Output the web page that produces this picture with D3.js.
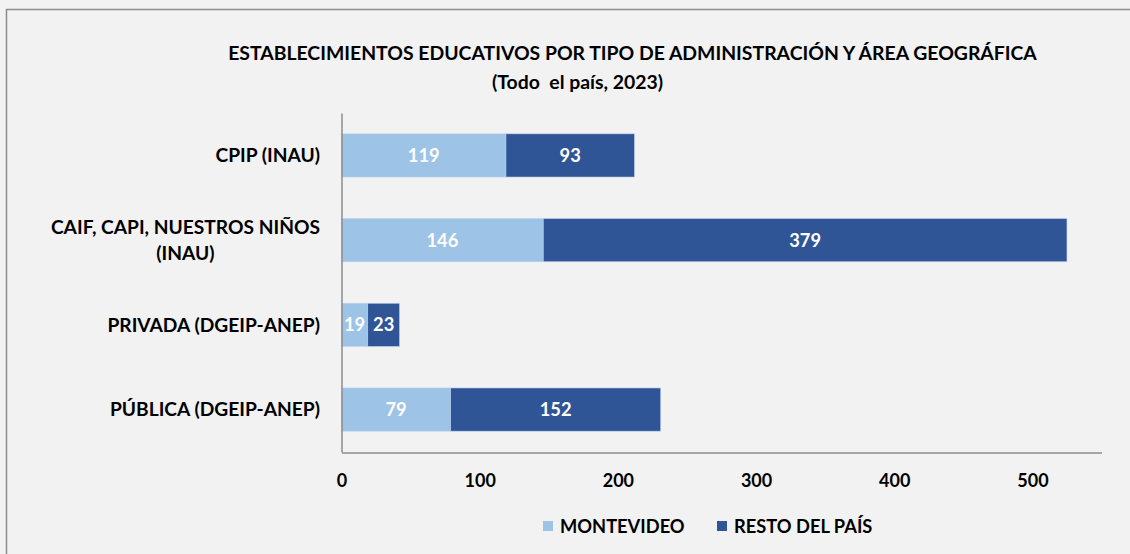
<!DOCTYPE html>
<html><head><meta charset="utf-8">
<script src="https://cdn.jsdelivr.net/npm/d3@7"></script>
<style>
html,body{margin:0;padding:0;background:#f2f2f2;}
text{font-family:Lato,"Noto Sans",sans-serif;font-weight:bold;}
</style></head>
<body>
<script>
const categories = ["CPIP (INAU)", "CAIF, CAPI, NUESTROS NIÑOS (INAU)", "PRIVADA (DGEIP-ANEP)", "PÚBLICA (DGEIP-ANEP)"];
const categoryLines = [["CPIP (INAU)"], ["CAIF, CAPI, NUESTROS NIÑOS", "(INAU)"], ["PRIVADA (DGEIP-ANEP)"], ["PÚBLICA (DGEIP-ANEP)"]];
const seriesNames = ["MONTEVIDEO", "RESTO DEL PAÍS"];
const montevideo = [119, 146, 19, 79];
const resto = [93, 379, 23, 152];
const xTicks = [0, 100, 200, 300, 400, 500];
const titleLines = ["ESTABLECIMIENTOS EDUCATIVOS POR TIPO DE ADMINISTRACIÓN Y ÁREA GEOGRÁFICA", "(Todo  el país, 2023)"];
const colors = ["#9dc3e6", "#2f5597"];

const W = 1130, H = 554;
const svg = d3.select("body").append("svg").attr("width", W).attr("height", H);
svg.append("rect").attr("width", W).attr("height", H).attr("fill", "#f2f2f2");
svg.append("rect").attr("x", 6.5).attr("y", 9.5).attr("width", W + 10).attr("height", H + 10)
  .attr("fill", "none").attr("stroke", "#8c8c8c").attr("stroke-width", 1.5);

const x = d3.scaleLinear().domain([0, 550]).range([341.5, 1101.5]);
const y = d3.scaleBand().domain(categories).range([113, 452]).paddingInner(0.49).paddingOuter(0.246);

// title
svg.append("text").attr("x", 632.5).attr("y", 59.5).attr("text-anchor", "middle")
  .attr("font-size", 19.4).attr("fill", "#000").text(titleLines[0]);
svg.append("text").attr("x", 577.5).attr("y", 88.5).attr("text-anchor", "middle")
  .attr("font-size", 19.4).attr("fill", "#000").style("white-space", "pre").text(titleLines[1]);

// stacked data
const stackData = categories.map((c, i) => ({cat: c, MONTEVIDEO: montevideo[i], "RESTO DEL PAÍS": resto[i]}));
const stack = d3.stack().keys(seriesNames)(stackData);

const g = svg.append("g");
stack.forEach((layer, li) => {
  layer.forEach(d => {
    g.append("rect")
      .attr("x", x(d[0])).attr("y", y(d.data.cat))
      .attr("width", x(d[1]) - x(d[0])).attr("height", y.bandwidth())
      .attr("fill", colors[li]).attr("stroke", "#bdd3ee").attr("stroke-width", 0.6);
    g.append("text")
      .attr("x", (x(d[0]) + x(d[1])) / 2).attr("y", y(d.data.cat) + y.bandwidth() / 2)
      .attr("dy", "0.36em").attr("text-anchor", "middle").attr("font-size", 18.3)
      .attr("fill", "#fff").text(d[1] - d[0]);
  });
});

// axes
const xAxis = svg.append("g").attr("transform", "translate(0,452.5)")
  .call(d3.axisBottom(x).tickValues(xTicks).tickSize(0).tickPadding(22));
xAxis.select(".domain").attr("stroke", "#8c8c8c").attr("stroke-width", 1.5);
xAxis.selectAll("text").attr("font-size", 18).attr("fill", "#000").style("font-family", "Lato").style("font-weight", "bold");

const yAxis = svg.append("g").attr("transform", "translate(341.5,0)")
  .call(d3.axisLeft(y).tickSize(0).tickFormat(""));
yAxis.select(".domain").attr("stroke", "#8c8c8c").attr("stroke-width", 1.5);

// category labels
categories.forEach((c, i) => {
  const lines = categoryLines[i];
  const cy = y(c) + y.bandwidth() / 2;
  const lh = 26;
  const grp = svg.append("g");
  const texts = lines.map((l, k) => grp.append("text")
    .attr("y", cy + (k - (lines.length - 1) / 2) * lh).attr("dy", "0.36em")
    .attr("text-anchor", "middle").attr("font-size", 19.2).attr("fill", "#000").text(l));
  const maxW = d3.max(texts, t => t.node().getComputedTextLength());
  texts.forEach(t => t.attr("x", 320 - maxW / 2));
});

// legend
const legX = [543, 717];
seriesNames.forEach((s, i) => {
  svg.append("rect").attr("x", legX[i]).attr("y", 521).attr("width", 10).attr("height", 10).attr("fill", colors[i]);
  svg.append("text").attr("x", legX[i] + 17).attr("y", 526).attr("dy", "0.36em")
    .attr("font-size", 18.3).attr("fill", "#000").text(s);
});
</script>
</body></html>
